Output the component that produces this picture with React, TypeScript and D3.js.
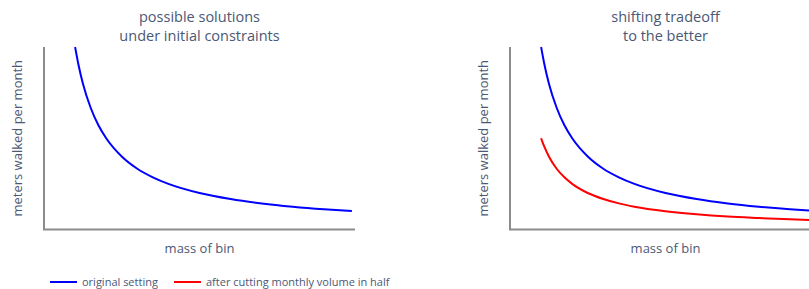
import { useMemo } from 'react'
import * as d3 from 'd3'

// values (arbitrary units)
const massValues = [1, 1.1, 1.25, 1.5, 1.75, 2, 2.5, 3, 3.5, 4, 5, 6, 7, 8, 9, 10]
const originalWalk = [10, 9.1, 8, 6.67, 5.71, 5, 4, 3.33, 2.86, 2.5, 2, 1.67, 1.43, 1.25, 1.11, 1]
const halfVolumeWalk = [5, 4.55, 4, 3.33, 2.86, 2.5, 2, 1.67, 1.43, 1.25, 1, 0.83, 0.71, 0.63, 0.56, 0.5]

// left panel curve stops a little before the end of the axis
const leftMass = [1, 1.1, 1.25, 1.5, 1.75, 2, 2.5, 3, 3.5, 4, 5, 6, 7, 8, 9, 9.9]
const leftWalk = [10, 9.1, 8, 6.67, 5.71, 5, 4, 3.33, 2.86, 2.5, 2, 1.67, 1.43, 1.25, 1.11, 1.01]

const panels = [
  { title: ['possible solutions', 'under initial constraints'], left: 44, series: ['left'] },
  { title: ['shifting tradeoff', 'to the better'], left: 510, series: ['original', 'half'] },
]

const legendItems = [
  { key: 'original', label: 'original setting', color: '#0000ff' },
  { key: 'half', label: 'after cutting monthly volume in half', color: '#ff0000' },
]

const textColor = '#4b5875'
const font = '"Open Sans", sans-serif'

interface Pt { x: number; y: number }

function Panel({ title, left, series }: { title: string[]; left: number; series: string[] }) {
  const plotW = 311
  const top = 47
  const bottom = 229.5
  const x = useMemo(() => d3.scaleLinear().domain([0, 10]).range([left, left + plotW]), [left])
  const y = useMemo(() => d3.scaleLinear().domain([0, 10]).range([bottom, top]), [])

  const line = d3.line<Pt>().x(d => x(d.x)).y(d => y(d.y)).curve(d3.curveMonotoneX)
  const pts = (xs: number[], ys: number[]): Pt[] => xs.map((m, i) => ({ x: m, y: ys[i] }))

  const cx = left + plotW / 2
  const cy = (top + bottom) / 2

  return (
    <g>
      <text x={cx} y={22} textAnchor="middle" fontSize={14.5} fill={textColor} fontFamily={font}>{title[0]}</text>
      <text x={cx} y={41} textAnchor="middle" fontSize={14.5} fill={textColor} fontFamily={font}>{title[1]}</text>
      <line x1={left} x2={left} y1={top} y2={bottom} stroke="#8c8c8c" strokeWidth={2} />
      <line x1={left - 1} x2={left + plotW} y1={bottom} y2={bottom} stroke="#8c8c8c" strokeWidth={2} />
      {series.includes('left') && (
        <path d={line(pts(leftMass, leftWalk)) || ''} fill="none" stroke="#0000ff" strokeWidth={2} />
      )}
      {series.includes('original') && (
        <path d={line(pts(massValues, originalWalk)) || ''} fill="none" stroke="#0000ff" strokeWidth={2} />
      )}
      {series.includes('half') && (
        <path d={line(pts(massValues, halfVolumeWalk)) || ''} fill="none" stroke="#ff0000" strokeWidth={2} />
      )}
      <text x={cx} y={253} textAnchor="middle" fontSize={13} fill={textColor} fontFamily={font}>mass of bin</text>
      <text transform={`translate(${left - 22},${cy}) rotate(-90)`} textAnchor="middle" fontSize={13} fill={textColor} fontFamily={font}>meters walked per month</text>
    </g>
  )
}

export default function App() {
  return (
    <div style={{ position: 'absolute', left: 0, top: 0, width: 809, height: 289, overflow: 'hidden', background: '#fff' }}>
      <svg width={830} height={289}>
        {panels.map(p => <Panel key={p.left} title={p.title} left={p.left} series={p.series} />)}
        <g transform="translate(50,282)">
          {legendItems.map((item, i) => {
            const off = i * 124
            return (
              <g key={item.key} transform={`translate(${off},0)`}>
                <line x1={0} x2={27} y1={0} y2={0} stroke={item.color} strokeWidth={2} />
                <text x={32} y={4} fontSize={11} fill={textColor} fontFamily={font}>{item.label}</text>
              </g>
            )
          })}
        </g>
      </svg>
    </div>
  )
}
